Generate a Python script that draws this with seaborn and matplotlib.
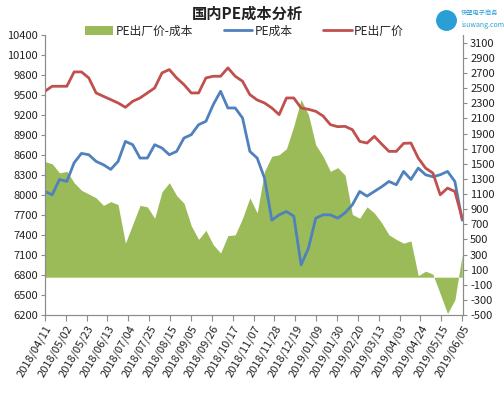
import matplotlib

matplotlib.use("Agg")

import matplotlib.dates as mdates
import matplotlib.pyplot as plt
import pandas as pd
import seaborn as sns
from matplotlib.lines import Line2D
from matplotlib.patches import Patch

start_date = "2018-04-11"
end_date = "2019-06-05"

# weekly readings, left axis (yuan/t)
ex_factory_price = [
    9550, 9625, 9625, 9625, 9840, 9840, 9750, 9525, 9475, 9425,
    9375, 9310, 9400, 9450, 9525, 9600, 9825, 9875, 9750, 9650,
    9525, 9525, 9750, 9775, 9775, 9900, 9775, 9700, 9500, 9420,
    9375, 9300, 9200, 9450, 9450, 9300, 9280, 9250, 9180, 9050,
    9020, 9025, 8975, 8800, 8775, 8875, 8760, 8650, 8650, 8770,
    8775, 8550, 8400, 8325, 8000, 8100, 8050, 7650,
]
pe_cost = [
    8050, 8000, 8230, 8200, 8480, 8620, 8600, 8500, 8450, 8380,
    8500, 8800, 8750, 8550, 8550, 8750, 8700, 8600, 8650, 8850,
    8900, 9050, 9100, 9350, 9550, 9300, 9300, 9150, 8650, 8550,
    8250, 7620, 7700, 7750, 7680, 6950, 7200, 7650, 7700, 7700,
    7650, 7730, 7850, 8050, 7980, 8050, 8120, 8200, 8150, 8350,
    8230, 8400, 8300, 8270, 8300, 8350, 8200, 7620,
]
# right axis
price_minus_cost = [
    1530, 1500, 1380, 1400, 1250, 1150, 1100, 1050, 950, 1000,
    960, 450, 700, 950, 930, 780, 1130, 1250, 1080, 980,
    680, 500, 620, 430, 320, 550, 560, 780, 1050, 850,
    1400, 1600, 1620, 1700, 2000, 2350, 2150, 1750, 1600, 1400,
    1450, 1350, 830, 780, 930, 850, 720, 560, 500, 450,
    480, 20, 80, 40, -220, -480, -300, 300,
]

GREEN = "#9bbb59"
BLUE = "#4f81bd"
RED = "#c0504d"
GREY = "#8c8c8c"

dates = pd.date_range(start_date, end_date, periods=len(pe_cost))
df = pd.DataFrame({
    "date": dates,
    "cost": pe_cost,
    "price": ex_factory_price,
    "spread": price_minus_cost,
})
tick_dates = pd.date_range(start_date, end_date, freq="21D")

sns.set_style("white")
plt.rcParams["font.family"] = ["Noto Sans CJK SC", "DejaVu Sans"]
plt.rcParams["axes.unicode_minus"] = False

fig = plt.figure(figsize=(5.04, 3.99), dpi=100)
ax = fig.add_axes([0.089, 0.2105, 0.83, 0.703])
ax2 = ax.twinx()

ax2.fill_between(df["date"], 0, df["spread"], color=GREEN, linewidth=0)
sns.lineplot(data=df, x="date", y="cost", ax=ax, color=BLUE, linewidth=2)
sns.lineplot(data=df, x="date", y="price", ax=ax, color=RED, linewidth=2)

ax.set_zorder(ax2.get_zorder() + 1)
ax.patch.set_visible(False)

ax.set_ylim(6200, 10400)
ax.set_yticks(range(6200, 10401, 300))
ax2.set_ylim(-500, 3210)
ax2.set_yticks(range(-500, 3101, 200))
ax.set_xlim(dates[0], dates[-1] + pd.Timedelta(days=1))
ax.set_xticks(tick_dates)
ax.xaxis.set_major_formatter(mdates.DateFormatter("%Y/%m/%d"))
ax.set_xlabel("")
ax.set_ylabel("")
ax2.set_ylabel("")

for a in (ax, ax2):
    a.spines["top"].set_visible(False)
    for s in ("left", "right", "bottom"):
        a.spines[s].set_color(GREY)
        a.spines[s].set_linewidth(0.8)
    a.tick_params(axis="both", length=3, width=0.8, color=GREY,
                  labelsize=8, labelcolor="#222222", pad=2)
ax.tick_params(axis="y", left=True, right=False)
ax2.tick_params(axis="y", right=True, left=False)
ax.tick_params(axis="x", bottom=True, length=4)
plt.setp(ax.get_xticklabels(), rotation=60, ha="right", rotation_mode="anchor")

fig.text(0.49, 0.965, "国内PE成本分析", ha="center", va="center",
         fontsize=11, fontweight="bold", color="#222222")

handles = [
    Patch(facecolor=GREEN, edgecolor="none"),
    Line2D([], [], color=BLUE, linewidth=2),
    Line2D([], [], color=RED, linewidth=2),
]
fig.legend(handles, ["PE出厂价-成本", "PE成本", "PE出厂价"], loc="center",
           bbox_to_anchor=(0.485, 0.922), ncol=3, frameon=False, fontsize=8.5,
           handlelength=2.4, handletextpad=0.2, columnspacing=2.6)

# logo
fig.add_artist(Line2D([0.885], [0.95], marker="o", markersize=14,
                      color="#2a9fd6", transform=fig.transFigure))
fig.text(0.915, 0.962, "快塑电子商务", fontsize=4.5, color="#2a9fd6")
fig.text(0.915, 0.932, "isuwang.com", fontsize=5, color="#2a9fd6", style="italic")

fig.savefig("out.png", dpi=100)
plt.close(fig)
